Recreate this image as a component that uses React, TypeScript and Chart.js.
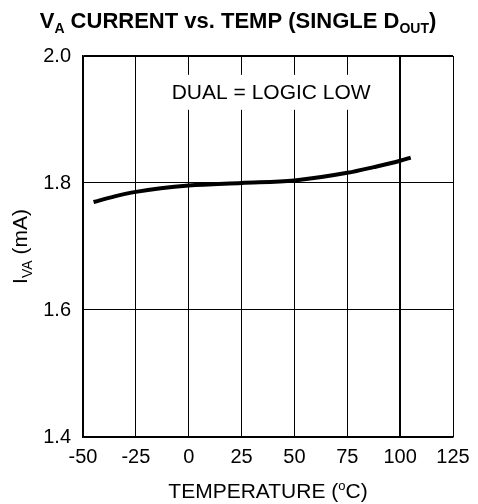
import React, { useEffect, useRef } from "react";
import { Chart, registerables } from "chart.js";

Chart.register(...registerables);

const temps = [-45, -35, -25, 0, 25, 50, 75, 87.5, 100, 105];
const currents = [1.770, 1.779, 1.786, 1.796, 1.800, 1.804, 1.816, 1.825, 1.835, 1.840];
const xTicks = [-50, -25, 0, 25, 50, 75, 100, 125];
const yTicks = [1.4, 1.6, 1.8, 2.0];
const annotationText = "DUAL = LOGIC LOW";

const FONT = "'Liberation Sans', Arial, Helvetica, sans-serif";

type Part = { text: string; size: number; bold?: boolean; dy?: number };

function drawRich(ctx: CanvasRenderingContext2D, parts: Part[], cx: number, y: number) {
  let total = 0;
  const widths = parts.map((p) => {
    ctx.font = `${p.bold ? "bold " : ""}${p.size}px ${FONT}`;
    const w = ctx.measureText(p.text).width;
    total += w;
    return w;
  });
  let x = cx - total / 2;
  ctx.textAlign = "left";
  ctx.textBaseline = "alphabetic";
  parts.forEach((p, i) => {
    ctx.font = `${p.bold ? "bold " : ""}${p.size}px ${FONT}`;
    ctx.fillText(p.text, x, y + (p.dy || 0));
    x += widths[i];
  });
}

const textPlugin = {
  id: "richText",
  beforeDatasetsDraw(chart: any) {
    const ctx = chart.ctx as CanvasRenderingContext2D;
    const xs = chart.scales.x;
    const ys = chart.scales.y;
    const cx = xs.getPixelForValue(39);
    const cy = ys.getPixelForValue(1.942);
    ctx.save();
    ctx.font = `21px ${FONT}`;
    const w = ctx.measureText(annotationText).width;
    ctx.fillStyle = "#fff";
    ctx.fillRect(cx - w / 2 - 4, cy - 18, w + 8, 35);
    ctx.fillStyle = "#000";
    ctx.textAlign = "center";
    ctx.textBaseline = "middle";
    ctx.fillText(annotationText, cx, cy);
    ctx.restore();
  },
  afterDraw(chart: any) {
    const ctx = chart.ctx as CanvasRenderingContext2D;
    const area = chart.chartArea;
    ctx.save();
    ctx.fillStyle = "#000";
    // title
    drawRich(
      ctx,
      [
        { text: "V", size: 22, bold: true },
        { text: "A", size: 14, bold: true, dy: 5 },
        { text: " CURRENT vs. TEMP (SINGLE D", size: 22, bold: true },
        { text: "OUT", size: 14, bold: true, dy: 5 },
        { text: ")", size: 22, bold: true },
      ],
      238,
      28
    );
    // x title
    drawRich(
      ctx,
      [
        { text: "TEMPERATURE (", size: 21 },
        { text: "o", size: 13, dy: -8 },
        { text: "C)", size: 21 },
      ],
      (area.left + area.right) / 2,
      498
    );
    // y title
    ctx.translate(27, (area.top + area.bottom) / 2);
    ctx.rotate(-Math.PI / 2);
    drawRich(
      ctx,
      [
        { text: "I", size: 21 },
        { text: "VA", size: 14, dy: 5 },
        { text: " (mA)", size: 21 },
      ],
      0,
      0
    );
    ctx.restore();
  },
};

export default function App() {
  const ref = useRef<HTMLCanvasElement | null>(null);
  useEffect(() => {
    if (!ref.current) return;
    const chart = new Chart(ref.current, {
      type: "line",
      data: {
        datasets: [
          {
            data: temps.map((t, i) => ({ x: t, y: currents[i] })),
            borderColor: "#000",
            borderWidth: 4,
            pointRadius: 0,
            cubicInterpolationMode: "monotone",
            fill: false,
          },
        ],
      },
      options: {
        responsive: false,
        animation: false,
        layout: { padding: { top: 56, right: 25, left: 0, bottom: 0 } },
        plugins: { legend: { display: false }, tooltip: { enabled: false }, title: { display: false } },
        scales: {
          x: {
            type: "linear",
            min: -50,
            max: 125,
            afterFit: (s: any) => {
              s.height = 67;
            },
            afterBuildTicks: (s: any) => {
              s.ticks = xTicks.map((v) => ({ value: v }));
            },
            ticks: {
              color: "#000",
              font: { family: FONT, size: 20 },
              padding: 8,
              maxRotation: 0,
              autoSkip: false,
              callback: (v: any) => String(v),
            },
            grid: {
              color: "#000",
              drawTicks: false,
              lineWidth: (c: any) => (c.tick && c.tick.value === 100 ? 2 : 1),
            },
            border: { color: "#000", width: 1.5 },
          },
          y: {
            min: 1.4,
            max: 2.0,
            afterFit: (s: any) => {
              s.width = 83;
            },
            afterBuildTicks: (s: any) => {
              s.ticks = yTicks.map((v) => ({ value: v }));
            },
            ticks: {
              color: "#000",
              font: { family: FONT, size: 20 },
              padding: 12,
              autoSkip: false,
              callback: (v: any) => Number(v).toFixed(1),
            },
            grid: {
              color: "#000",
              drawTicks: false,
              lineWidth: (c: any) => (c.tick && Math.abs(c.tick.value - 2.0) < 1e-6 ? 2 : 1),
            },
            border: { color: "#000", width: 1.5 },
          },
        },
      },
      plugins: [textPlugin],
    } as any);
    return () => chart.destroy();
  }, []);
  return (
    <div style={{ position: "absolute", left: 0, top: 0, width: 478, height: 504, background: "#fff" }}>
      <canvas ref={ref} width={478} height={504} style={{ display: "block" }} />
    </div>
  );
}
